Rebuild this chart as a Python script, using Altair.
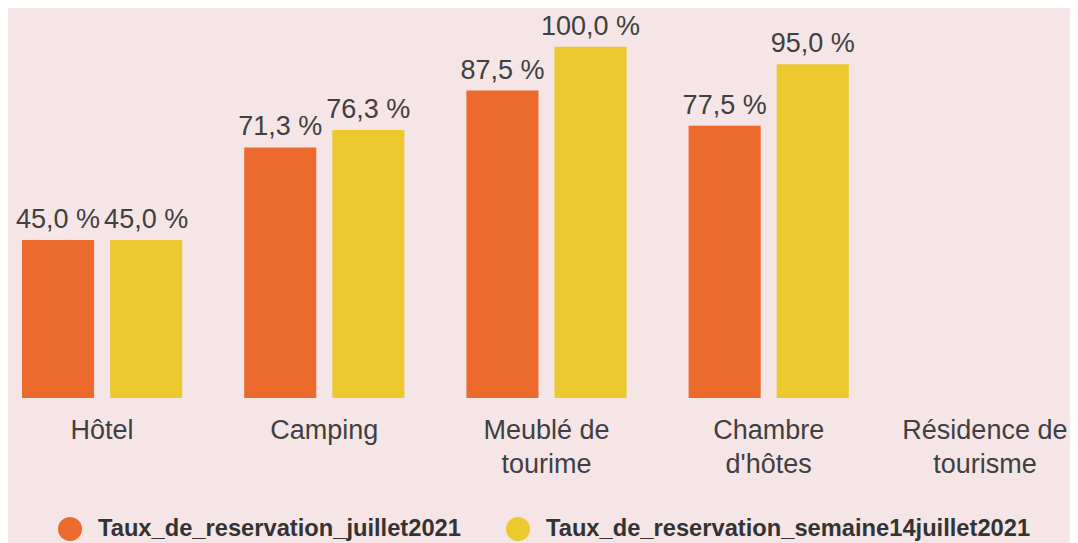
import altair as alt
import pandas as pd

# Categories (line breaks as shown on the axis)
categories = ["Hôtel", "Camping", "Meublé de\ntourime", "Chambre\nd'hôtes", "Résidence de\ntourisme"]
series = ["Taux_de_reservation_juillet2021", "Taux_de_reservation_semaine14juillet2021"]
juillet = [45.0, 71.3, 87.5, 77.5, None]
semaine14 = [45.0, 76.3, 100.0, 95.0, None]
colors = ["#ec6a2b", "#ebc92f"]

rows = []
for cat, a, b in zip(categories, juillet, semaine14):
    if a is not None:
        rows.append({"categorie": cat, "serie": series[0], "valeur": a})
    if b is not None:
        rows.append({"categorie": cat, "serie": series[1], "valeur": b})
df = pd.DataFrame(rows)

FONT = "Liberation Sans"

x = alt.X(
    "categorie:N",
    sort=categories,
    scale=alt.Scale(domain=categories, range=[-17, 1094], paddingInner=0, paddingOuter=0),
    axis=alt.Axis(
        title=None, domain=False, ticks=False, labelAngle=0, labelFontSize=27,
        labelFont=FONT, labelColor="#404040", labelPadding=19, labelLineHeight=34,
        labelLimit=400, labelExpr="split(datum.label, '\\n')", labelOverlap=False,
        labelOffset={"condition": {"test": "indexof(datum.value, 'Résidence') == 0", "value": -6}, "value": 0},
    ),
)
xo = alt.XOffset("serie:N", sort=series, scale=alt.Scale(paddingInner=0.1818, paddingOuter=0.352))
y = alt.Y("valeur:Q", axis=None, scale=alt.Scale(domain=[0, 111]))

base = alt.Chart(df).encode(x=x, xOffset=xo, y=y)

bars = base.mark_bar().encode(
    color=alt.Color(
        "serie:N",
        sort=series,
        scale=alt.Scale(domain=series, range=colors),
        legend=alt.Legend(
            title=None, orient="none", legendX=50, legendY=509, direction="horizontal",
            symbolType="circle", symbolSize=576, symbolStrokeWidth=0,
            labelFont=FONT, labelFontSize=23.7, labelFontWeight="bold", labelColor="#333333",
            labelOffset=16, columnPadding=45, padding=0, labelLimit=600,
        ),
    )
)

labels = base.transform_calculate(
    lbl="replace(format(datum.valeur, '.1f'), '.', ',') + ' %'"
).mark_text(
    font=FONT, fontSize=27, color="#404040", baseline="alphabetic", dy=-12
).encode(text="lbl:N")

chart = (
    alt.layer(bars, labels)
    .properties(
        width=1062, height=390,
        autosize=alt.AutoSizeParams(type="none"),
        padding={"left": 0, "top": 0, "right": 0, "bottom": 145},
        background="#f5e5e7",
    )
    .configure_view(stroke=None)
)

chart.save("out.html", embed_options={"renderer": "svg", "actions": False})
